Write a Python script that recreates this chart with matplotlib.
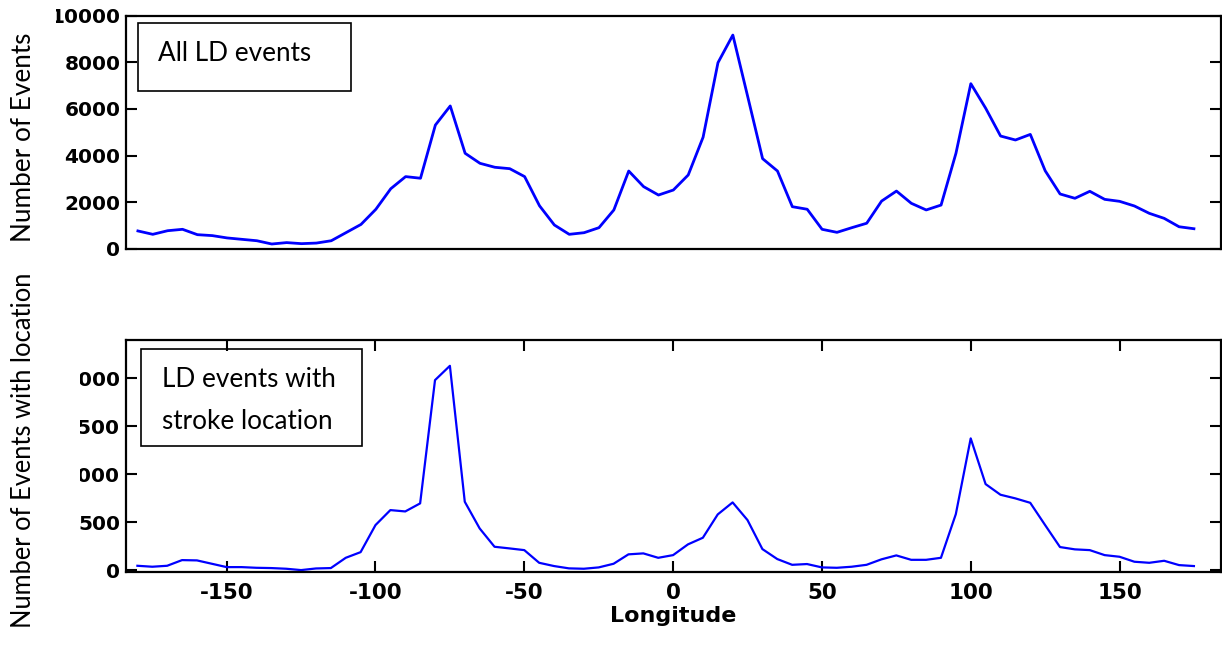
import matplotlib
matplotlib.use("Agg")
import matplotlib.pyplot as plt
from matplotlib.patches import Rectangle
import numpy as np

plt.rcParams["axes.unicode_minus"] = False

# longitude bins, 5 degree steps
lon = np.arange(-180, 180, 5)

# all LD events per bin
all_events = [770, 625, 780, 840, 610, 570, 470, 410, 350, 210, 270, 225,
              250, 350, 700, 1050, 1700, 2580, 3100, 3030, 5310, 6130, 4100,
              3670, 3500, 3440, 3100, 1850, 1025, 625, 695, 910, 1670, 3340,
              2670, 2310, 2525, 3170, 4790, 7985, 9170, 6530, 3870, 3340, 1810,
              1700, 840, 710, 910, 1100, 2050, 2480, 1955, 1670, 1880, 4100,
              7085, 6030, 4840, 4670, 4910, 3350, 2355, 2170, 2470, 2125, 2040,
              1840, 1525, 1310, 950, 865]

# LD events with stroke location per bin
loc_events = [48, 38, 48, 107, 104, 69, 34, 34, 27, 24, 17, 3, 20, 24, 131,
              190, 472, 628, 614, 698, 1982, 2131, 715, 437, 246, 229, 211, 79,
              45, 21, 17, 31, 69, 167, 177, 131, 159, 271, 340, 583, 708, 524,
              222, 118, 58, 66, 31, 27, 38, 58, 115, 156, 110, 110, 131, 586,
              1375, 899, 788, 750, 704, 472, 243, 219, 211, 159, 142, 90, 79,
              100, 55, 45]

top_yticks = [0, 2000, 4000, 6000, 8000, 10000]
bot_yticks = [0, 500, 1000, 1500, 2000]
xticks = [-150, -100, -50, 0, 50, 100, 150]

W, H = 1222, 653
fig = plt.figure(figsize=(W / 100, H / 100), dpi=100)
ax1 = fig.add_axes([126 / W, 1 - 248.9 / H, 1094.7 / W, 233.2 / H])
ax2 = fig.add_axes([125.5 / W, 1 - 572.3 / H, 1095.2 / W, 232.3 / H])

tick_font = dict(family="DejaVu Sans", weight="bold", size=14.5)
label_font = ["Lato", "DejaVu Sans"]

ax1.plot(lon, all_events, color="#0000ff", lw=2.0)
ax1.set_xlim(-184, 184)
ax1.set_ylim(0, 10000)
ax1.set_yticks(top_yticks)
ax1.set_xticks([])
ax1.tick_params(axis="y", direction="in", length=8, width=1.5, left=True,
                right=True, pad=4)

ax2.plot(lon, loc_events, color="#0000ff", lw=1.6)
ax2.set_xlim(-184, 184)
ax2.set_ylim(-20, 2400)
ax2.set_yticks(bot_yticks)
ax2.set_xticks(xticks)
ax2.tick_params(direction="in", length=8, width=1.5, left=True, right=True,
                top=True, bottom=True, pad=4)
ax2.tick_params(axis="x", pad=8)
ax2.set_xlabel("Longitude", family="DejaVu Sans", weight="bold", size=16,
               labelpad=2)

for ax in (ax1, ax2):
    for s in ax.spines.values():
        s.set_linewidth(1.6)
    for t in ax.get_yticklabels():
        t.set_fontproperties(tick_font)
for t in ax2.get_xticklabels():
    t.set_fontproperties(dict(tick_font, size=15.5))

# annotation boxes
ax1.add_patch(Rectangle((0.011, 0.678), 0.1946, 0.292, transform=ax1.transAxes,
                        fill=False, ec="black", lw=1.2))
ax1.text(0.0292, 0.806, "All LD events", transform=ax1.transAxes,
         family=label_font, size=18.8, va="baseline", ha="left")

ax2.add_patch(Rectangle((0.0142, 0.545), 0.2017, 0.415, transform=ax2.transAxes,
                        fill=False, ec="black", lw=1.2))
for line, yb in zip(["LD events with", "stroke location"], [0.799, 0.617]):
    ax2.text(0.0333, yb, line, transform=ax2.transAxes, family=label_font,
             size=18.8, va="baseline", ha="left")

# the left edge of the tick labels is hidden in the original
fig.patches.append(Rectangle((0, 1 - 600 / H), 80 / W, 260 / H,
                             transform=fig.transFigure, fc="white", ec="none",
                             zorder=5))
fig.patches.append(Rectangle((0, 1 - 30 / H), 56 / W, 30 / H,
                             transform=fig.transFigure, fc="white", ec="none",
                             zorder=5))

fig.text(24 / W, 1 - 137.5 / H, "Number of Events", rotation=90,
         ha="center", va="center", family=label_font, size=18.8, zorder=6)
fig.text(24 / W, 1 - 450 / H, "Number of Events with location", rotation=90,
         ha="center", va="center", family=label_font, size=18.4, zorder=6)

fig.savefig("out.png", dpi=100)
